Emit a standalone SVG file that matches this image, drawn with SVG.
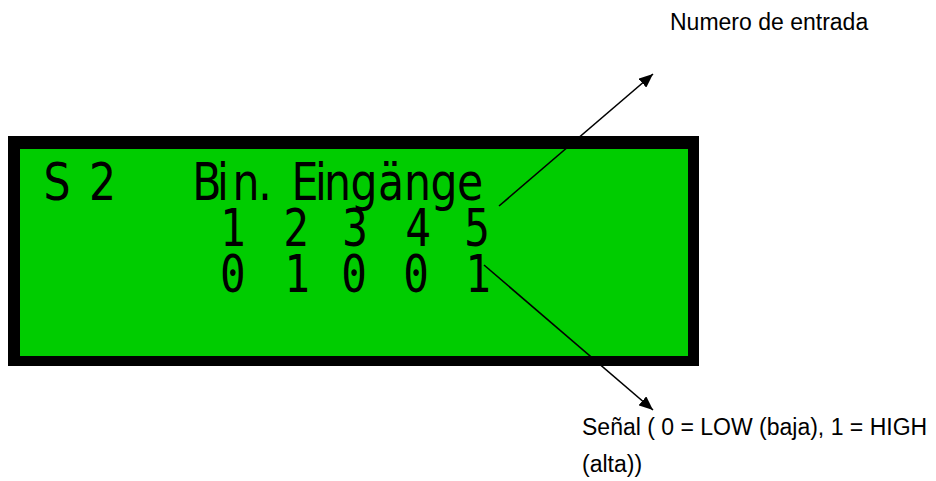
<svg xmlns="http://www.w3.org/2000/svg" width="936" height="481" viewBox="0 0 936 481">
  <style>
    .lcd-text { font-family: "DejaVu Sans", sans-serif; font-size: 52px; fill: #000; text-anchor: middle; }
    .lcd-digit { font-family: "DejaVu Sans Mono", monospace; font-size: 52px; fill: #000; text-anchor: middle; }
    .label { font-family: "Liberation Sans", Arial, sans-serif; font-size: 23px; fill: #000; }
    .conn { stroke: #000; stroke-width: 1.6; fill: none; }
  </style>
  <defs>
    <marker id="arrow" viewBox="0 0 14 12" refX="14" refY="6" markerWidth="14" markerHeight="12" orient="auto" markerUnits="userSpaceOnUse">
      <path d="M0,0 L14,6 L0,12 z" fill="#000"/>
    </marker>
  </defs>
  <rect width="936" height="481" fill="#fff"/>

  <g id="lcd">
    <rect x="8" y="136" width="691" height="230" fill="#000"/>
    <rect x="20" y="149" width="668" height="207" fill="#00cc00"/>
    <g transform="scale(0.82,1)">
      <text class="lcd-text" y="200"><tspan x="69.5 125">S2</tspan><tspan x="252.4 272 300 323.2 372 391.5 411.6 443.9 476.8 509.1 541.5 573.2">Bin.Eingänge</tspan></text>
      <text class="lcd-digit"><tspan x="284.1 361 432.9 509.8 581.7" y="246">12345</tspan><tspan x="284.1 362.2 431.7 507.3 582.9" y="292">01001</tspan></text>
    </g>
  </g>

  <g id="connectors">
    <path class="conn" d="M499,206 L653,74" marker-end="url(#arrow)"/>
    <path class="conn" d="M484,265 L653,410" marker-end="url(#arrow)"/>
  </g>

  <g id="label-numero">
    <text class="label" x="670" y="30">Numero de entrada</text>
  </g>
  <g id="label-senal">
    <text class="label" x="582" y="435">Señal ( 0 = LOW (baja), 1 = HIGH</text>
    <text class="label" x="582" y="472">(alta))</text>
  </g>
</svg>
